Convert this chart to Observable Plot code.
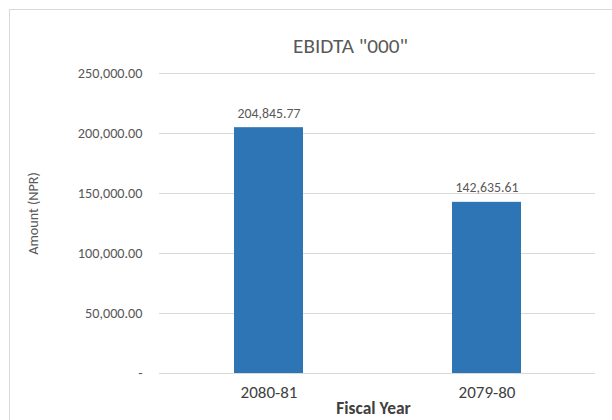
<!DOCTYPE html>
<html>
<head>
<meta charset="utf-8">
<script src="https://cdn.jsdelivr.net/npm/d3@7"></script>
<script src="https://cdn.jsdelivr.net/npm/@observablehq/plot@0.6"></script>
<style>
  html, body { margin: 0; padding: 0; background: #fff; overflow: hidden; }
  #wrap { position: relative; width: 612px; height: 420px; overflow: hidden; }
  #border { position: absolute; left: 9px; top: 9px; width: 800px; height: 600px; border: 1px solid #D9D9D9; box-sizing: border-box; pointer-events: none; }
  #chart { position: absolute; left: 0; top: 0; }
</style>
</head>
<body>
<div id="wrap"><div id="border"></div><div id="chart"></div></div>
<script>
const years = ["2080-81", "2079-80"];
const ebitda = [204845.77, 142635.61];
const yTicks = [0, 50000, 100000, 150000, 200000, 250000];
const titleText = 'EBIDTA "000"';
const xTitle = "Fiscal Year";
const yTitle = "Amount (NPR)";

const data = years.map((year, i) => ({year, value: ebitda[i]}));
const fmt = d3.format(",.2f");
const tickFmt = v => v === 0 ? "-" : fmt(v);
const font = "Carlito, Calibri, 'Liberation Sans', Arial, sans-serif";

const chart = Plot.plot({
  width: 612,
  height: 420,
  marginTop: 73,
  marginBottom: 47,
  marginLeft: 159,
  marginRight: 17,
  style: {fontFamily: font, background: "transparent", color: "#595959"},
  x: {domain: years, paddingInner: 0.684, paddingOuter: 0.342, label: null},
  y: {domain: [0, 250000], label: null},
  marks: [
    Plot.ruleY(yTicks, {stroke: "#D9D9D9", strokeWidth: 1}),
    Plot.barY(data, {x: "year", y: "value", fill: "#2E75B6"}),
    Plot.text(data, {x: "year", y: "value", text: d => fmt(d.value), dy: -10, lineAnchor: "bottom", fontSize: 13.8, fill: "#595959"}),
    Plot.axisY({ticks: yTicks, tickFormat: tickFmt, tickSize: 0, tickPadding: 17, fontSize: 14.2, fill: "#595959", label: null}),
    Plot.axisX({tickSize: 0, tickPadding: 12.5, fontSize: 17, fill: "#404040", label: null}),
    Plot.text([titleText], {frameAnchor: "top", dx: -27, dy: -21, lineAnchor: "bottom", fontSize: 21.2, fill: "#595959"}),
    Plot.text([xTitle], {frameAnchor: "bottom", dx: -4, dy: 40, lineAnchor: "bottom", fontSize: 17.4, fontWeight: "bold", fill: "#404040"}),
    Plot.text([yTitle], {frameAnchor: "left", dx: -122, dy: -10, rotate: -90, textAnchor: "middle", lineAnchor: "bottom", fontSize: 14.2, fill: "#595959"})
  ]
});
document.getElementById("chart").appendChild(chart);
</script>
</body>
</html>
